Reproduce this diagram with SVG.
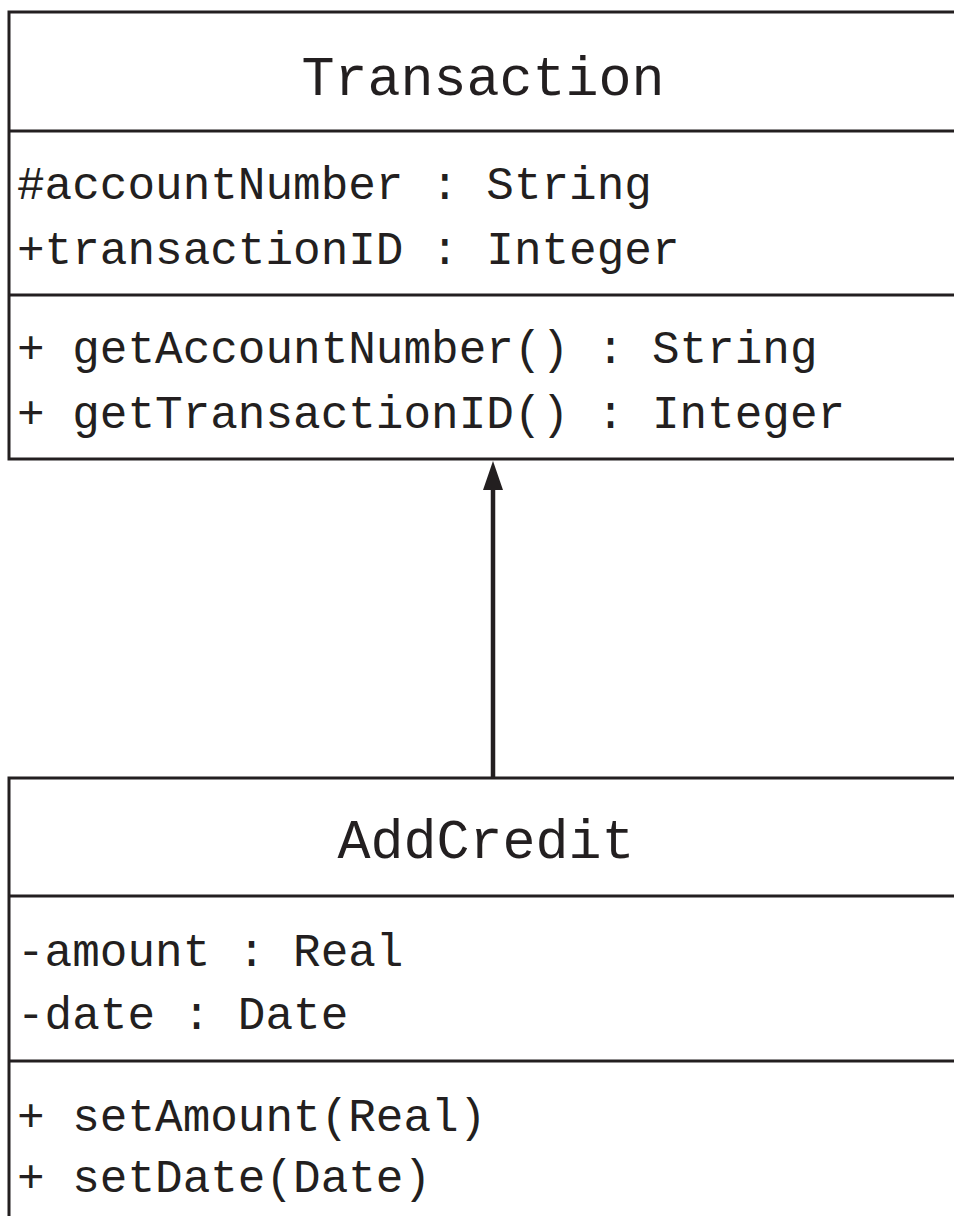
<svg xmlns="http://www.w3.org/2000/svg" width="954" height="1216" viewBox="0 0 954 1216">
<style>
.box{fill:#fff;stroke:#231f20;stroke-width:3}
.div{stroke:#231f20;stroke-width:3}
.t{font-family:"Liberation Mono","Courier New",monospace;fill:#231f20}
.title{font-size:55px;text-anchor:middle}
.body{font-size:46px}
.conn{stroke:#231f20;stroke-width:4.5;fill:none}
</style>
<rect width="954" height="1216" fill="#fff"/>
<g id="Transaction">
<rect class="box" x="9" y="12" width="960" height="447"/>
<line class="div" x1="9" y1="131" x2="969" y2="131"/>
<line class="div" x1="9" y1="295" x2="969" y2="295"/>
<text class="t title" x="483" y="95">Transaction</text>
<text class="t body" x="17" y="199">#accountNumber : String</text>
<text class="t body" x="17" y="264">+transactionID : Integer</text>
<text class="t body" x="17" y="363">+ getAccountNumber() : String</text>
<text class="t body" x="17" y="428">+ getTransactionID() : Integer</text>
</g>
<g id="AddCredit">
<rect class="box" x="9" y="778" width="960" height="460"/>
<line class="div" x1="9" y1="896" x2="969" y2="896"/>
<line class="div" x1="9" y1="1061" x2="969" y2="1061"/>
<text class="t title" x="486" y="858">AddCredit</text>
<text class="t body" x="17" y="966">-amount : Real</text>
<text class="t body" x="17" y="1029">-date : Date</text>
<text class="t body" x="17" y="1131">+ setAmount(Real)</text>
<text class="t body" x="17" y="1192">+ setDate(Date)</text>
</g>
<g id="connectors">
<line class="conn" x1="493" y1="777" x2="493" y2="486"/>
<polygon points="493,461 483,490 503,490" fill="#231f20"/>
</g>
</svg>
